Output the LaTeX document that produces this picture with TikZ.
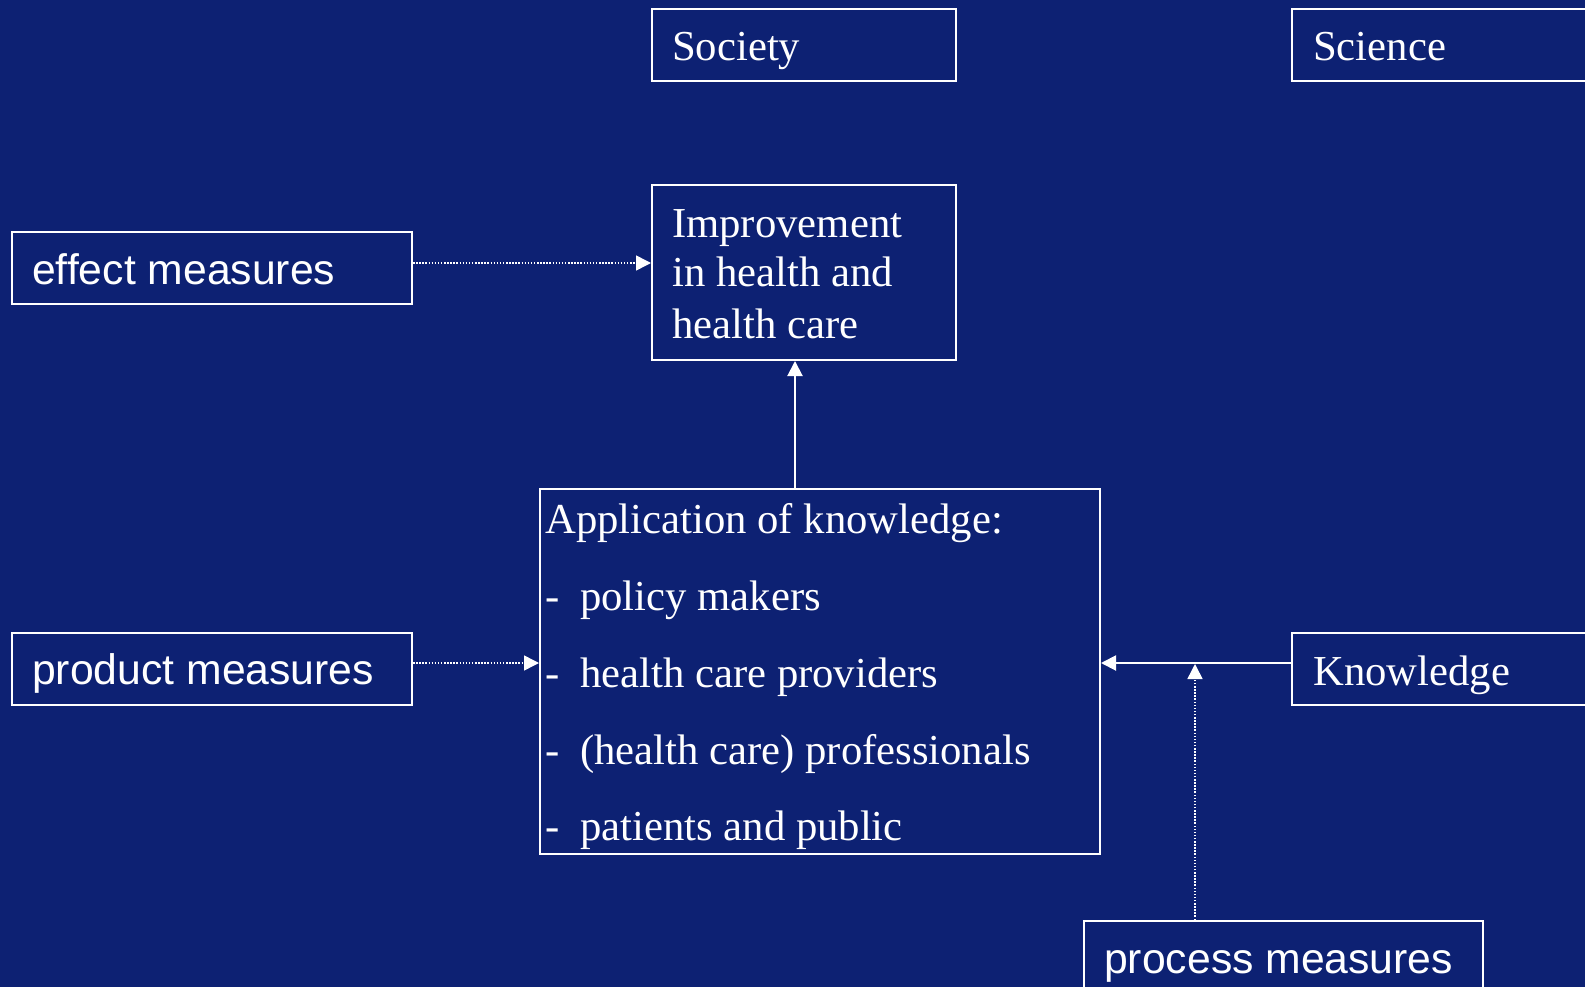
\documentclass[tikz,border=0pt]{standalone}
\usepackage{fontspec}
\setmainfont{Liberation Serif}
\newfontfamily\arialfont{Liberation Sans}
\usetikzlibrary{arrows.meta}
\definecolor{bgblue}{RGB}{13,33,115}
\tikzset{
  box/.style={draw=white, line width=2pt, rectangle, inner sep=0pt, anchor=north west},
  serif/.style={text=white, inner sep=0pt, anchor=base west, font=\fontsize{42.7}{50}\selectfont},
  sans/.style={text=white, inner sep=0pt, anchor=base west, font=\arialfont\fontsize{42.7}{50}\selectfont},
  solidarrow/.style={draw=white, line width=2pt, -{Triangle[length=15pt,width=15pt]}},
  dotarrow/.style={draw=white, line width=1.5pt, dash pattern=on 1.5pt off 1.6pt, -{Triangle[length=15pt,width=15pt]}}
}
\begin{document}
\begin{tikzpicture}[x=1pt,y=-1pt]
\fill[bgblue] (0,0) rectangle (1585,987);
\useasboundingbox (0,0) rectangle (1585,987);
\begin{scope}
\clip (0,0) rectangle (1585,987);
% boxes
\node[box, minimum width=304pt, minimum height=72pt] (society) at (651,8) {};
\node[box, minimum width=400pt, minimum height=72pt] (science) at (1291,8) {};
\node[box, minimum width=304pt, minimum height=175pt] (improvement) at (651,184) {};
\node[box, minimum width=400pt, minimum height=72pt] (effect) at (11,231) {};
\node[box, minimum width=400pt, minimum height=72pt] (product) at (11,632) {};
\node[box, minimum width=560pt, minimum height=365pt] (application) at (539,488) {};
\node[box, minimum width=400pt, minimum height=72pt] (knowledge) at (1291,632) {};
\node[box, minimum width=399pt, minimum height=72pt] (process) at (1083,920) {};
% texts
\node[serif] (tsociety) at (672,61) {Society};
\node[serif] (tscience) at (1313,61) {Science};
\node[serif] (timp1) at (672,237) {Improvement};
\node[serif] (timp2) at (672,287) {in health and};
\node[serif] (timp3) at (672,338) {health care};
\node[sans] (teffect) at (32,284) {effect measures};
\node[sans] (tproduct) at (32,684) {product measures};
\node[serif] (tapp) at (545,533) {Application of knowledge:};
\node[serif] (d1) at (545,610) {-};
\node[serif] (l1) at (580,610) {policy makers};
\node[serif] (d2) at (545,687) {-};
\node[serif] (l2) at (580,687) {health care providers};
\node[serif] (d3) at (545,764) {-};
\node[serif] (l3) at (580,764) {(health care) professionals};
\node[serif] (d4) at (545,840) {-};
\node[serif] (l4) at (580,840) {patients and public};
\node[serif] (tknow) at (1313,685) {Knowledge};
\node[sans] (tprocess) at (1104,973) {process measures};
% connectors
\coordinate (join) at (1195,664);
\draw[dotarrow] (effect.east |- 0,263) -- (improvement.west |- 0,263);
\draw[dotarrow] (product.east |- 0,663) -- (application.west |- 0,663);
\draw[solidarrow] (application.north -| 795,0) -- (improvement.south -| 795,0);
\draw[solidarrow] (knowledge.west |- 0,663) -- (application.east |- 0,663);
\draw[dotarrow] (process.north -| join) -- (join);
\end{scope}
\end{tikzpicture}
\end{document}
